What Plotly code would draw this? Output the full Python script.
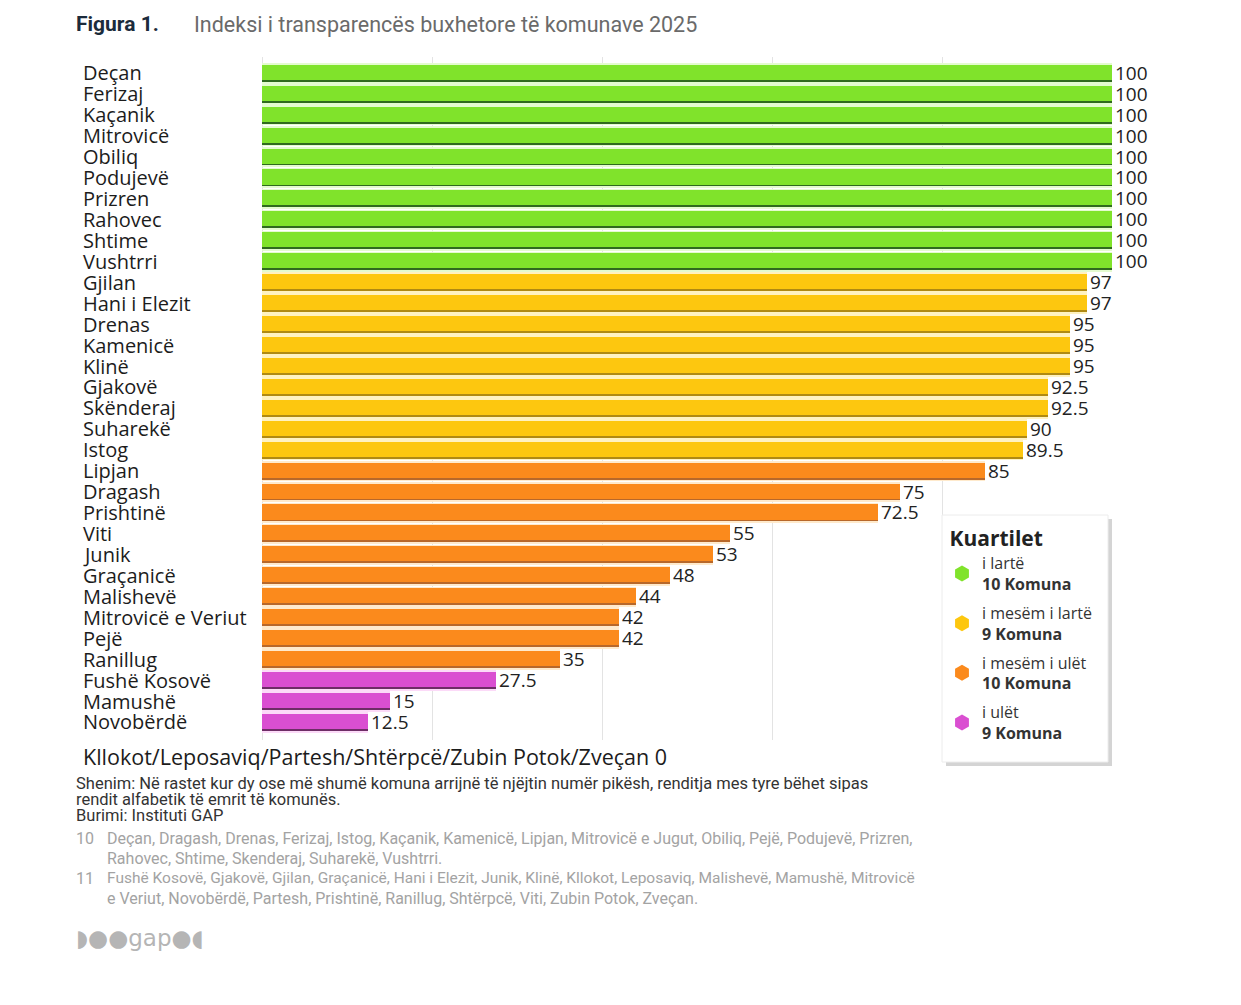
import plotly.graph_objects as go

# ---------------- data ----------------
municipalities = ["Deçan", "Ferizaj", "Kaçanik", "Mitrovicë", "Obiliq", "Podujevë", "Prizren",
                  "Rahovec", "Shtime", "Vushtrri", "Gjilan", "Hani i Elezit", "Drenas", "Kamenicë",
                  "Klinë", "Gjakovë", "Skënderaj", "Suharekë", "Istog", "Lipjan", "Dragash",
                  "Prishtinë", "Viti", "Junik", "Graçanicë", "Malishevë", "Mitrovicë e Veriut",
                  "Pejë", "Ranillug", "Fushë Kosovë", "Mamushë", "Novobërdë"]
scores = [100, 100, 100, 100, 100, 100, 100, 100, 100, 100,
          97, 97, 95, 95, 95, 92.5, 92.5, 90, 89.5,
          85, 75, 72.5, 55, 53, 48, 44, 42, 42, 35,
          27.5, 15, 12.5]
quartile = [0, 0, 0, 0, 0, 0, 0, 0, 0, 0,
            1, 1, 1, 1, 1, 1, 1, 1, 1,
            2, 2, 2, 2, 2, 2, 2, 2, 2, 2,
            3, 3, 3]
zero_municipalities = ["Kllokot", "Leposaviq", "Partesh", "Shtërpcë", "Zubin Potok", "Zveçan"]
zero_score = 0

quartile_names = ["i lartë", "i mesëm i lartë", "i mesëm i ulët", "i ulët"]
quartile_counts = [10, 9, 10, 9]

title_label = "Figura 1."
title_text = "Indeksi i transparencës buxhetore të komunave 2025"
legend_title = "Kuartilet"
note_lines = ["Shenim: Në rastet kur dy ose më shumë komuna arrijnë të njëjtin numër pikësh, renditja mes tyre bëhet sipas",
              "rendit alfabetik të emrit të komunës.",
              "Burimi: Instituti GAP"]
footnotes = [("10", ["Deçan, Dragash, Drenas, Ferizaj, Istog, Kaçanik, Kamenicë, Lipjan, Mitrovicë e Jugut, Obiliq, Pejë, Podujevë, Prizren,",
                     "Rahovec, Shtime, Skenderaj, Suharekë, Vushtrri."]),
             ("11", ["Fushë Kosovë, Gjakovë, Gjilan, Graçanicë, Hani i Elezit, Junik, Klinë, Kllokot, Leposaviq, Malishevë, Mamushë, Mitrovicë",
                     "e Veriut, Novobërdë, Partesh, Prishtinë, Ranillug, Shtërpcë, Viti, Zubin Potok, Zveçan."])]
logo_text = "◗●●gap●◖"

# ---------------- styles ----------------
main_colors = ["#80e32b", "#fdc70f", "#fb8a1c", "#da4fd1"]
shadow_colors = ["#2f6a1e", "#b08a12", "#b8682a", "#6e2d66"]
halo_colors = ["#e4fbcf", "#fff2c0", "#ffeacc", "#fcdaf8"]

OFF = 8  # page body margin
W, H = 1241 - OFF, 1005 - OFF
ML, MT = 262 - OFF, 57 - OFF
MR = W - (1112 - OFF)
MB = H - (740 - OFF)
PW, PH = W - ML - MR, H - MT - MB


def px2x(px):
    return (px - OFF - ML) / PW


def px2y(py):
    return (H - MB - (py - OFF)) / PH


def fmt(v):
    return str(int(v)) if float(v).is_integer() else str(v)


fig = go.Figure()

# halo behind bars
fig.add_trace(go.Bar(
    x=scores, y=municipalities, orientation="h",
    marker=dict(color=[halo_colors[q] for q in quartile], line=dict(width=0)),
    width=0.98, offset=-0.47, hoverinfo="skip", showlegend=False))
# dark bottom edge
fig.add_trace(go.Bar(
    x=scores, y=municipalities, orientation="h",
    marker=dict(color=[shadow_colors[q] for q in quartile], line=dict(width=0)),
    width=0.72, offset=-0.30, hoverinfo="skip", showlegend=False))
# main bars
fig.add_trace(go.Bar(
    x=scores, y=municipalities, orientation="h",
    marker=dict(color=[main_colors[q] for q in quartile], line=dict(width=0)),
    width=0.72, offset=-0.39,
    text=[fmt(v) for v in scores], textposition="outside", constraintext="none",
    textfont=dict(family="Open Sans", size=19, color="#222222"),
    cliponaxis=False, showlegend=False))

# legend entries (hexagon markers)
for i, (qn, qc) in enumerate(zip(quartile_names, quartile_counts)):
    fig.add_trace(go.Scatter(
        x=[None], y=[None], mode="markers",
        marker=dict(symbol="hexagon", size=22, color=main_colors[i]),
        name=f"{qn}<br><b>{qc} Komuna</b>", legendgroup=f"g{i}", showlegend=True))

annotations = []
# category labels, left-aligned
for name in municipalities:
    annotations.append(dict(x=px2x(81), xref="paper", y=name, yref="y", text=name,
                            xanchor="left", yanchor="middle", showarrow=False,
                            font=dict(family="Open Sans", size=20, color="#1c1c1c")))
# zero-score group
annotations.append(dict(x=px2x(81), xref="paper", y=px2y(756), yref="paper",
                        text="/".join(zero_municipalities) + " " + fmt(zero_score),
                        xanchor="left", yanchor="middle", showarrow=False,
                        font=dict(family="Open Sans", size=21.5, color="#1c1c1c")))
# title
annotations.append(dict(x=px2x(74), xref="paper", y=px2y(24), yref="paper",
                        text=f"<b>{title_label}</b>", xanchor="left", yanchor="middle", showarrow=False,
                        font=dict(family="Roboto", size=21, color="#1b2b3b")))
annotations.append(dict(x=px2x(192), xref="paper", y=px2y(24), yref="paper",
                        text=title_text, xanchor="left", yanchor="middle", showarrow=False,
                        font=dict(family="Roboto", size=21.5, color="#6a6a6a")))
# notes
for k, line in enumerate(note_lines):
    annotations.append(dict(x=px2x(74), xref="paper", y=px2y(783 + 16 * k), yref="paper",
                            text=line, xanchor="left", yanchor="middle", showarrow=False,
                            font=dict(family="Roboto", size=16.5, color="#333333")))
# footnotes
fy = 838
foot_sizes = [[16, 16], [15.5, 16]]
for (num, lines), sizes in zip(footnotes, foot_sizes):
    annotations.append(dict(x=px2x(74), xref="paper", y=px2y(fy), yref="paper",
                            text=num, xanchor="left", yanchor="middle", showarrow=False,
                            font=dict(family="Roboto", size=16, color="#a3a3a3")))
    for line, fs in zip(lines, sizes):
        annotations.append(dict(x=px2x(105), xref="paper", y=px2y(fy), yref="paper",
                                text=line, xanchor="left", yanchor="middle", showarrow=False,
                                font=dict(family="Roboto", size=fs, color="#a3a3a3")))
        fy += 20
# logo
annotations.append(dict(x=px2x(74), xref="paper", y=px2y(938), yref="paper",
                        text=logo_text, xanchor="left", yanchor="middle", showarrow=False,
                        font=dict(family="DejaVu Sans", size=23, color="#b5b5b5")))

shapes = [
    # legend box shadow and box
    dict(type="rect", xref="paper", yref="paper", layer="above",
         x0=px2x(946), x1=px2x(1112), y0=px2y(519), y1=px2y(766),
         fillcolor="#d4d4d4", line=dict(width=0)),
    dict(type="rect", xref="paper", yref="paper", layer="above",
         x0=px2x(942), x1=px2x(1108), y0=px2y(515), y1=px2y(762),
         fillcolor="#ffffff", line=dict(color="#ececec", width=1)),
]

fig.update_layout(
    width=W, height=H,
    margin=dict(l=ML, r=MR, t=MT, b=MB, pad=0),
    paper_bgcolor="white", plot_bgcolor="white",
    barmode="overlay", bargap=0,
    showlegend=True,
    legend=dict(x=px2x(942), y=px2y(519), xanchor="left", yanchor="top",
                bgcolor="rgba(0,0,0,0)", borderwidth=0,
                title=dict(text="\u00a0<b>" + legend_title + "</b>",
                           font=dict(family="Open Sans", size=21, color="#222222")),
                font=dict(family="Open Sans", size=16, color="#333333"),
                itemsizing="trace", tracegroupgap=5),
    xaxis=dict(range=[0, 100], tickvals=[0, 20, 40, 60, 80, 100], showticklabels=False,
               showgrid=True, gridcolor="#e3e3e3", gridwidth=1,
               zeroline=True, zerolinecolor="#e3e3e3", zerolinewidth=1,
               showline=False, fixedrange=True),
    yaxis=dict(type="category", categoryorder="array", categoryarray=municipalities,
               range=[31.86, -0.76], showticklabels=False, showgrid=False,
               zeroline=False, showline=False),
    annotations=annotations,
    shapes=shapes,
)

fig.write_html("out.html")
